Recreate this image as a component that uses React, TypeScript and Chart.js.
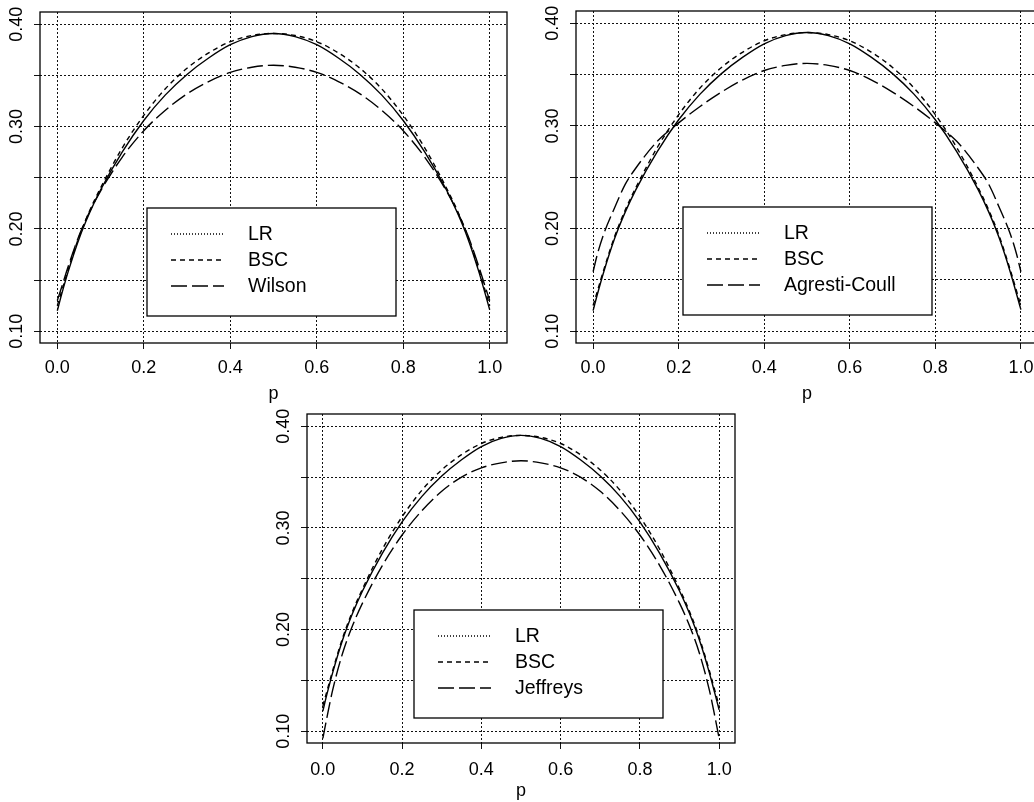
import React, { useEffect, useRef } from "react";
import { Chart, registerables } from "chart.js";

Chart.register(...registerables);

// ---- data ----
const P = [0, 0.01, 0.025, 0.05, 0.075, 0.1, 0.15, 0.2, 0.25, 0.3, 0.35, 0.4, 0.45, 0.5,
  0.55, 0.6, 0.65, 0.7, 0.75, 0.8, 0.85, 0.9, 0.925, 0.95, 0.975, 0.99, 1];

const LR = [0.120, 0.136, 0.158, 0.190, 0.216, 0.238, 0.275, 0.306, 0.331, 0.351, 0.367, 0.380, 0.388, 0.391,
  0.388, 0.380, 0.367, 0.351, 0.331, 0.306, 0.275, 0.238, 0.216, 0.190, 0.158, 0.136, 0.121];

const BSC = [0.125, 0.139, 0.160, 0.192, 0.218, 0.240, 0.279, 0.311, 0.337, 0.357, 0.372, 0.383, 0.389, 0.391,
  0.389, 0.383, 0.372, 0.357, 0.337, 0.311, 0.279, 0.240, 0.218, 0.192, 0.160, 0.139, 0.125];

const WILSON = [0.130, 0.143, 0.163, 0.193, 0.217, 0.237, 0.270, 0.296, 0.316, 0.332, 0.344, 0.353, 0.358, 0.360,
  0.358, 0.353, 0.344, 0.332, 0.316, 0.296, 0.270, 0.237, 0.217, 0.193, 0.163, 0.143, 0.130];

const AGRESTI = [0.158, 0.175, 0.195, 0.220, 0.243, 0.259, 0.285, 0.303, 0.319, 0.333, 0.345, 0.354, 0.359, 0.361,
  0.359, 0.354, 0.345, 0.333, 0.319, 0.303, 0.285, 0.259, 0.243, 0.220, 0.195, 0.175, 0.158];

const JEFFREYS = [0.093, 0.113, 0.141, 0.177, 0.204, 0.226, 0.263, 0.293, 0.317, 0.336, 0.350, 0.359, 0.364, 0.366,
  0.364, 0.359, 0.350, 0.336, 0.317, 0.293, 0.263, 0.226, 0.204, 0.177, 0.141, 0.113, 0.093];

const X_TICKS = [0, 0.2, 0.4, 0.6, 0.8, 1.0];
const Y_GRID = [0.10, 0.15, 0.20, 0.25, 0.30, 0.35, 0.40];
const Y_LABELS = [0.10, 0.20, 0.30, 0.40];
const X_TITLE = "p";

// ---- styling / layout ----
const FONT = "'Liberation Sans', Arial, Helvetica, sans-serif";
const INK = "#000";
const TICK_SIZE = 18;
const LEGEND_SIZE = 19.5;
const DASH_LR_LEGEND = [1, 2];
const DASH_BSC = [5, 4];
const DASH_THIRD = [16, 5];

type PanelCfg = {
  name: string;
  series: number[];
  left: number; top: number; width: number; height: number;
  padTop: number; padRight: number; yWidth: number; xHeight: number;
  tickPad: number; titlePad: number;
};

const PANELS: PanelCfg[] = [
  { name: "Wilson", series: WILSON, left: 0, top: 0, width: 520, height: 410,
    padTop: 12, padRight: 13, yWidth: 40, xHeight: 67, tickPad: 8, titlePad: 5 },
  { name: "Agresti-Coull", series: AGRESTI, left: 530, top: 0, width: 520, height: 410,
    padTop: 11, padRight: 12, yWidth: 46, xHeight: 67, tickPad: 8, titlePad: 5 },
  { name: "Jeffreys", series: JEFFREYS, left: 260, top: 400, width: 520, height: 402,
    padTop: 14, padRight: 45, yWidth: 47, xHeight: 59, tickPad: 10, titlePad: 0 },
];

function makePlugin(name: string) {
  return {
    id: "rframe",
    afterDraw(chart: any) {
      const { ctx, chartArea: a, scales } = chart;
      ctx.save();
      // box
      ctx.strokeStyle = INK;
      ctx.lineWidth = 1.3;
      ctx.setLineDash([]);
      ctx.strokeRect(a.left, a.top, a.right - a.left, a.bottom - a.top);
      // rotated y labels
      ctx.fillStyle = INK;
      ctx.font = `${TICK_SIZE}px ${FONT}`;
      ctx.textAlign = "center";
      ctx.textBaseline = "middle";
      for (const v of Y_LABELS) {
        const y = scales.y.getPixelForValue(v);
        ctx.save();
        ctx.translate(a.left - 23, y);
        ctx.rotate(-Math.PI / 2);
        ctx.fillText(v.toFixed(2), 0, 0);
        ctx.restore();
      }
      // legend
      const bx = a.left + 107;
      const by = a.top + 196;
      const bw = 249;
      const bh = 108;
      ctx.fillStyle = "#fff";
      ctx.fillRect(bx, by, bw, bh);
      ctx.strokeStyle = INK;
      ctx.lineWidth = 1.3;
      ctx.strokeRect(bx, by, bw, bh);
      const names = ["LR", "BSC", name];
      const dashes = [DASH_LR_LEGEND, DASH_BSC, DASH_THIRD];
      ctx.font = `${LEGEND_SIZE}px ${FONT}`;
      ctx.textAlign = "left";
      ctx.textBaseline = "middle";
      names.forEach((n, i) => {
        const y = by + 26 + i * 26;
        ctx.beginPath();
        ctx.setLineDash(dashes[i]);
        ctx.lineWidth = 1.3;
        ctx.moveTo(bx + 24, y);
        ctx.lineTo(bx + 77, y);
        ctx.stroke();
        ctx.setLineDash([]);
        ctx.fillStyle = INK;
        ctx.fillText(n, bx + 101, y + 1);
      });
      ctx.restore();
    },
  };
}

function Panel({ cfg }: { cfg: PanelCfg }) {
  const ref = useRef<HTMLCanvasElement>(null);
  useEffect(() => {
    const pts = (arr: number[]) => P.map((p, i) => ({ x: p, y: arr[i] }));
    const common = {
      borderColor: INK,
      borderWidth: 1.4,
      pointRadius: 0,
      fill: false,
      cubicInterpolationMode: "monotone" as const,
    };
    const gridOpts = { color: "#111", lineWidth: 1, tickLength: 6, tickColor: "#111", tickWidth: 1 };
    const chart = new Chart(ref.current as HTMLCanvasElement, {
      type: "line",
      data: {
        datasets: [
          { ...common, label: "LR", data: pts(LR) },
          { ...common, label: "BSC", data: pts(BSC), borderDash: DASH_BSC },
          { ...common, label: cfg.name, data: pts(cfg.series), borderDash: DASH_THIRD },
        ],
      },
      options: {
        animation: false,
        responsive: false,
        maintainAspectRatio: false,
        layout: { padding: { top: cfg.padTop, right: cfg.padRight, left: 0, bottom: 0 } },
        plugins: { legend: { display: false }, tooltip: { enabled: false }, title: { display: false } },
        scales: {
          x: {
            type: "linear",
            min: -0.04,
            max: 1.04,
            afterBuildTicks: (s: any) => { s.ticks = X_TICKS.map((v) => ({ value: v })); },
            afterFit: (s: any) => { s.height = cfg.xHeight; },
            ticks: {
              color: INK,
              font: { family: FONT, size: TICK_SIZE },
              padding: cfg.tickPad,
              maxRotation: 0,
              callback: (v: any) => Number(v).toFixed(1),
            },
            grid: gridOpts,
            border: { display: false, dash: [2, 2] },
            title: {
              display: true,
              text: X_TITLE,
              color: INK,
              font: { family: FONT, size: TICK_SIZE },
              padding: { top: 0, bottom: cfg.titlePad },
            },
          },
          y: {
            type: "linear",
            min: 0.0885,
            max: 0.412,
            afterBuildTicks: (s: any) => { s.ticks = Y_GRID.map((v) => ({ value: v })); },
            afterFit: (s: any) => { s.width = cfg.yWidth; },
            ticks: { display: false },
            grid: gridOpts,
            border: { display: false, dash: [2, 2] },
          },
        },
      },
      plugins: [makePlugin(cfg.name)],
    } as any);
    return () => chart.destroy();
  }, [cfg]);
  return (
    <canvas
      ref={ref}
      width={cfg.width}
      height={cfg.height}
      style={{ position: "absolute", left: cfg.left, top: cfg.top, width: cfg.width, height: cfg.height }}
    />
  );
}

export default function App() {
  return (
    <div
      style={{
        position: "fixed",
        left: 0,
        top: 0,
        width: 1034,
        height: 802,
        overflow: "hidden",
        background: "#fff",
      }}
    >
      {PANELS.map((c) => (
        <Panel key={c.name} cfg={c} />
      ))}
    </div>
  );
}
